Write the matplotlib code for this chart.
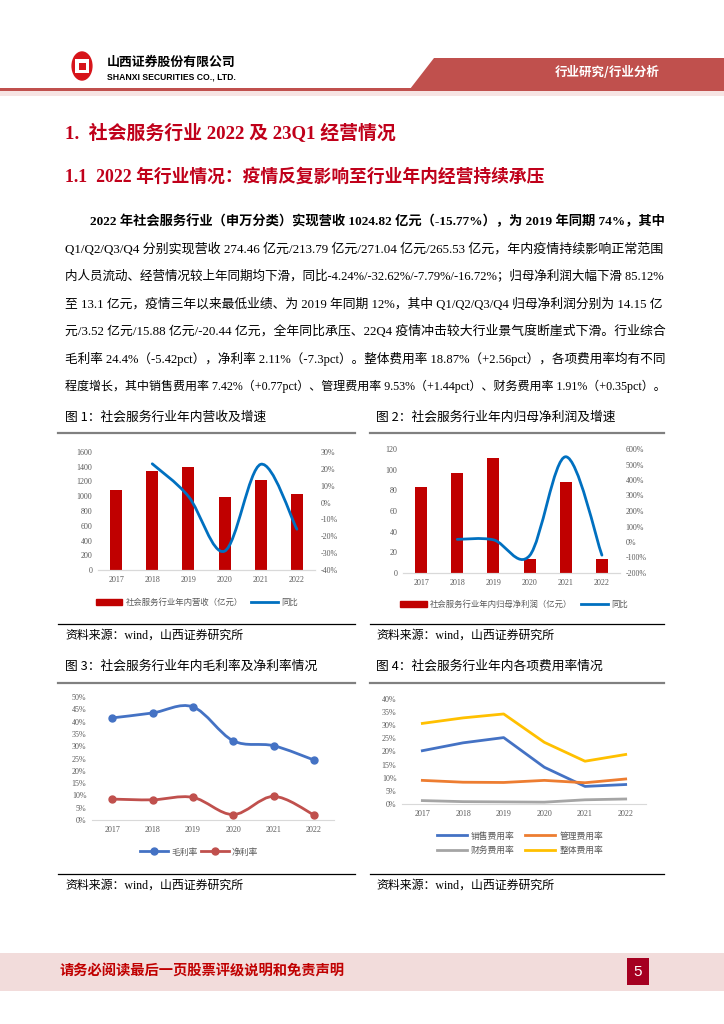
import numpy as np
import matplotlib
matplotlib.use('Agg')
import matplotlib.pyplot as plt
from matplotlib.path import Path
from matplotlib.patches import PathPatch, Rectangle, Circle, Polygon
from matplotlib.lines import Line2D

W, H = 724, 1024
SERIF = ['Liberation Serif', 'Noto Sans CJK SC']
SANS = ['Noto Sans CJK SC', 'DejaVu Sans']
plt.rcParams['font.family'] = SANS
plt.rcParams['axes.unicode_minus'] = False

years = ['2017', '2018', '2019', '2020', '2021', '2022']
revenue = [1090, 1340, 1390, 990, 1215, 1025]
revenue_yoy = [np.nan, 23.0, 3.7, -28.8, 22.7, -15.8]
profit = [83, 97, 111, 13.5, 88, 13.1]
profit_yoy = [np.nan, 17, 14, -88, 550, -85]
gross_margin = [41.5, 43.5, 46.0, 32.2, 30.2, 24.4]
net_margin = [8.5, 8.2, 9.2, 2.2, 9.6, 2.1]
sales_exp = [20.3, 23.3, 25.3, 14.0, 6.7, 7.42]
admin_exp = [9.0, 8.3, 8.2, 9.0, 8.1, 9.53]
fin_exp = [1.3, 0.9, 0.8, 0.7, 1.6, 1.91]
total_exp = [30.7, 32.8, 34.3, 23.5, 16.3, 18.87]

body_lines = [
    '2022 年社会服务行业（申万分类）实现营收 1024.82 亿元（-15.77%），为 2019 年同期 74%，其中',
    'Q1/Q2/Q3/Q4 分别实现营收 274.46 亿元/213.79 亿元/271.04 亿元/265.53 亿元，年内疫情持续影响正常范围',
    '内人员流动、经营情况较上年同期均下滑，同比-4.24%/-32.62%/-7.79%/-16.72%；归母净利润大幅下滑 85.12%',
    '至 13.1 亿元，疫情三年以来最低业绩、为 2019 年同期 12%，其中 Q1/Q2/Q3/Q4 归母净利润分别为 14.15 亿',
    '元/3.52 亿元/15.88 亿元/-20.44 亿元，全年同比承压、22Q4 疫情冲击较大行业景气度断崖式下滑。行业综合',
    '毛利率 24.4%（-5.42pct），净利率 2.11%（-7.3pct）。整体费用率 18.87%（+2.56pct），各项费用率均有不同',
    '程度增长，其中销售费用率 7.42%（+0.77pct）、管理费用率 9.53%（+1.44pct）、财务费用率 1.91%（+0.35pct）。',
]

RED = '#C00000'
BLUE = '#0070C0'
TICK_C = '#595959'

fig = plt.figure(figsize=(W / 100, H / 100), dpi=100)


def fx(x):
    return x / W


def fy(y):
    return 1 - y / H


def txt(x, y, s, **kw):
    return fig.text(fx(x), fy(y), s, **kw)


def hline(x0, x1, y, **kw):
    fig.add_artist(Line2D([fx(x0), fx(x1)], [fy(y), fy(y)], **kw))


def box(left, top, right, bottom):
    return fig.add_axes([fx(left), fy(bottom), fx(right - left), (bottom - top) / H])


def smooth(ax, xs, ys, **kw):  # excel-style smoothed line through the data points
    pts = np.array([(x, y) for x, y in zip(xs, ys) if not np.isnan(y)])
    verts, codes = [pts[0]], [Path.MOVETO]
    for i in range(len(pts) - 1):
        p0, p1 = pts[max(i - 1, 0)], pts[i]
        p2, p3 = pts[i + 1], pts[min(i + 2, len(pts) - 1)]
        verts += [p1 + (p2 - p0) / 6, p2 - (p3 - p1) / 6, p2]
        codes += [Path.CURVE4] * 3
    ax.add_patch(PathPatch(Path(verts, codes), fill=False, capstyle='round', **kw))
    return pts


def style(ax, ylim, step, fmt):
    ax.set_xlim(-0.5, 5.5)
    ax.set_ylim(*ylim)
    ax.set_yticks(np.arange(ylim[0], ylim[1] + step / 2, step))
    ax.yaxis.set_major_formatter(plt.FuncFormatter(fmt))
    ax.set_xticks(range(6))
    ax.set_xticklabels(years)
    for s in ['top', 'left', 'right']:
        ax.spines[s].set_visible(False)
    ax.spines['bottom'].set_color('#D9D9D9')
    ax.tick_params(length=0, labelsize=5.8, labelcolor=TICK_C, pad=4)
    for lab in ax.get_xticklabels() + ax.get_yticklabels():
        lab.set_family(SERIF)
    ax.patch.set_alpha(0)


LEG = dict(loc='center', bbox_transform=fig.transFigure, frameon=False, labelcolor=TICK_C)

# ---------------- header
fig.add_artist(Circle((fx(82), fy(66)), 14 / H, transform=fig.transFigure, color='#D7141A'))
fig.add_artist(Rectangle((fx(75), fy(73)), 14 / W, 14 / H, transform=fig.transFigure,
                         facecolor='white', edgecolor='none'))
fig.add_artist(Rectangle((fx(78.5), fy(69.5)), 7 / W, 7 / H, transform=fig.transFigure,
                         facecolor='#D7141A', edgecolor='none'))
txt(107, 62, '山西证券股份有限公司', fontsize=9.3, fontweight='bold', va='center', family=SANS)
txt(107, 77, 'SHANXI SECURITIES CO., LTD.', fontsize=6.2, fontweight='bold', va='center',
    family=['Liberation Sans'])
fig.add_artist(Polygon([(fx(434), fy(58)), (fx(W), fy(58)), (fx(W), fy(89)), (fx(410), fy(89))],
                       transform=fig.transFigure, facecolor='#C0504D', edgecolor='none'))
fig.add_artist(Rectangle((0, fy(91)), 1, 3 / H, transform=fig.transFigure,
                         facecolor='#C0504D', edgecolor='none'))
fig.add_artist(Rectangle((0, fy(96)), 1, 5 / H, transform=fig.transFigure,
                         facecolor='#F6E4E3', edgecolor='none'))
txt(607, 73, '行业研究/行业分析', fontsize=9, fontweight='bold', color='white',
    ha='center', va='center')

# ---------------- headings and body
txt(65, 133, '1.  社会服务行业 2022 及 23Q1 经营情况', fontsize=13.6, fontweight='bold',
    color='#C0001A', va='center', family=SERIF)
txt(65, 177, '1.1  2022 年行业情况：疫情反复影响至行业年内经营持续承压', fontsize=12.8,
    fontweight='bold', color='#C0001A', va='center', family=SERIF)

body_y = [221, 249, 276, 304, 331, 359, 386]
body_texts = []
for i, (line, y) in enumerate(zip(body_lines, body_y)):
    x0 = 90 if i == 0 else 65
    t = txt(x0, y, line, fontsize=8.6, va='center', family=SERIF,
            fontweight='bold' if i == 0 else 'normal')
    body_texts.append((t, x0))

# justify lines to the right margin
fig.canvas.draw()
r = fig.canvas.get_renderer()
for t, x0 in body_texts:
    w = t.get_window_extent(r).width
    t.set_fontsize(t.get_fontsize() * (661 - x0) / w)

# ---------------- figure captions and rules
for x0, x1, tx in [(58, 355, 65), (370, 664, 376)]:
    hline(x0, x1, 433, color='#808080', lw=1.6)
    hline(x0, x1, 683, color='#808080', lw=1.6)
    hline(x0, x1, 624, color='black', lw=0.9)
    hline(x0, x1, 874, color='black', lw=0.9)
    for y in (636, 886):
        txt(tx, y, '资料来源：wind，山西证券研究所', fontsize=8.6, va='center', family=SERIF)

txt(65, 417, '图 1：社会服务行业年内营收及增速', fontsize=9.2, va='center')
txt(376, 417, '图 2：社会服务行业年内归母净利润及增速', fontsize=9.2, va='center')
txt(65, 666, '图 3：社会服务行业年内毛利率及净利率情况', fontsize=9.2, va='center')
txt(376, 666, '图 4：社会服务行业年内各项费用率情况', fontsize=9.2, va='center')

x = np.arange(6)
pct = lambda v, p: f'{v:.0f}%'
num = lambda v, p: f'{v:.0f}'

# ---------------- chart 1
ax1 = box(98, 452, 315, 570)
ax1.bar(x, revenue, width=0.33, color=RED, zorder=2)
style(ax1, (0, 1600), 200, num)
ax1b = ax1.twinx()
style(ax1b, (-40, 30), 10, pct)
ax1b.yaxis.set_ticks_position('right')
smooth(ax1b, x, revenue_yoy, edgecolor=BLUE, lw=2)
h1 = [Rectangle((0, 0), 1, 1, color=RED), Line2D([], [], color=BLUE, lw=2)]
ax1.legend(h1, ['社会服务行业年内营收（亿元）', '同比'], ncol=2, bbox_to_anchor=(fx(197), fy(602)),
           fontsize=6, handlelength=3.2, handleheight=0.7, columnspacing=1.0,
           handletextpad=0.4, **LEG)

# ---------------- chart 2
ax2 = box(403, 449, 620, 573)
ax2.bar(x, profit, width=0.33, color=RED, zorder=2)
style(ax2, (0, 120), 20, num)
ax2b = ax2.twinx()
style(ax2b, (-200, 600), 100, pct)
ax2b.yaxis.set_ticks_position('right')
smooth(ax2b, x, profit_yoy, edgecolor=BLUE, lw=2)
ax2.legend(h1, ['社会服务行业年内归母净利润（亿元）', '同比'], ncol=2,
           bbox_to_anchor=(fx(514), fy(604)), fontsize=6, handlelength=3.2,
           handleheight=0.7, columnspacing=1.0, handletextpad=0.4, **LEG)

# ---------------- chart 3
ax3 = box(92, 697, 334, 820)
style(ax3, (0, 50), 5, pct)
for vals, c in [(gross_margin, '#4472C4'), (net_margin, '#C0504D')]:
    pts = smooth(ax3, x, vals, edgecolor=c, lw=2)
    ax3.plot(pts[:, 0], pts[:, 1], 'o', color=c, ms=5, zorder=3)
h3 = [Line2D([], [], color='#4472C4', lw=2, marker='o', ms=5),
      Line2D([], [], color='#C0504D', lw=2, marker='o', ms=5)]
ax3.legend(h3, ['毛利率', '净利率'], ncol=2, bbox_to_anchor=(fx(199), fy(852)),
           fontsize=6.3, handlelength=3.2, columnspacing=0.4, handletextpad=0.3, **LEG)

# ---------------- chart 4
ax4 = box(402, 699, 646, 804)
style(ax4, (0, 40), 5, pct)
series4 = [(sales_exp, '#4472C4', '销售费用率'), (admin_exp, '#ED7D31', '管理费用率'),
           (fin_exp, '#A5A5A5', '财务费用率'), (total_exp, '#FFC000', '整体费用率')]
lines4 = [ax4.plot(x, vals, color=c, lw=2, label=lab)[0] for vals, c, lab in series4]
order = [0, 2, 1, 3]  # legend fills by column
ax4.legend([lines4[i] for i in order], [series4[i][2] for i in order], ncol=2,
           bbox_to_anchor=(fx(520), fy(843)), fontsize=6.3, handlelength=3.4,
           columnspacing=1.2, handletextpad=0.5, labelspacing=0.6, **LEG)

# ---------------- footer
fig.add_artist(Rectangle((0, fy(991)), 1, 38 / H, transform=fig.transFigure,
                         facecolor='#F2DCDB', edgecolor='none'))
txt(60, 971, '请务必阅读最后一页股票评级说明和免责声明', fontsize=10.3, fontweight='bold',
    color=RED, va='center')
fig.add_artist(Rectangle((fx(627), fy(985)), 22 / W, 27 / H, transform=fig.transFigure,
                         facecolor='#A50021', edgecolor='none'))
txt(638, 971.5, '5', fontsize=11, color='white', ha='center', va='center',
    family=['Liberation Sans'])

fig.savefig('out.png', dpi=100)
